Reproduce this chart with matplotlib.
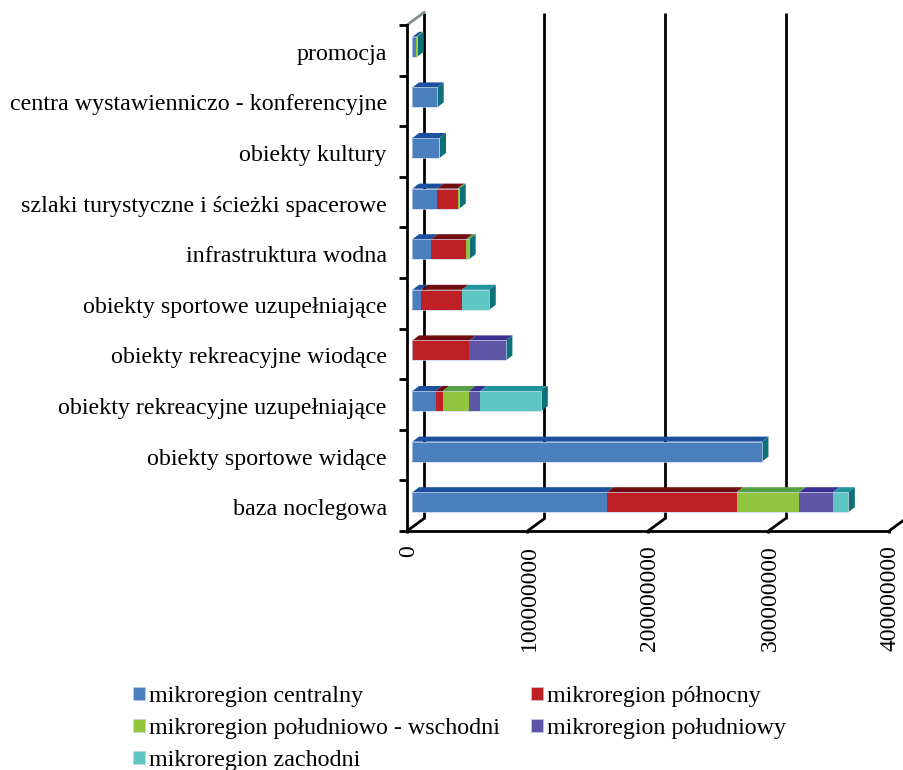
import matplotlib
matplotlib.use('Agg')
import matplotlib.pyplot as plt
from matplotlib.patches import Polygon, Patch
from matplotlib.transforms import ScaledTranslation

plt.rcParams['font.family'] = ['Liberation Serif', 'DejaVu Serif']

# Values, bottom category first
categories = ['baza noclegowa', 'obiekty sportowe widące', 'obiekty rekreacyjne uzupełniające',
              'obiekty rekreacyjne wiodące', 'obiekty sportowe uzupełniające', 'infrastruktura wodna',
              'szlaki turystyczne i ścieżki spacerowe', 'obiekty kultury',
              'centra wystawienniczo - konferencyjne', 'promocja']
centralny = [161400000, 290000000, 19300000, 0, 7200000, 15500000, 20500000, 22400000, 20500000, 3100000]
polnocny = [107600000, 0, 5800000, 47300000, 33800000, 29000000, 16900000, 0, 0, 0]
pld_wschodni = [52000000, 0, 21800000, 0, 0, 2500000, 1400000, 0, 0, 800000]
poludniowy = [28000000, 0, 9400000, 30200000, 0, 0, 0, 0, 0, 0]
zachodni = [12700000, 0, 50600000, 0, 22700000, 0, 0, 0, 0, 0]
series_names = ['mikroregion centralny', 'mikroregion północny', 'mikroregion południowo - wschodni',
                'mikroregion południowy', 'mikroregion zachodni']
x_ticks = [0, 100000000, 200000000, 300000000, 400000000]

series = [centralny, polnocny, pld_wschodni, poludniowy, zachodni]
front_colors = ['#4A7EBF', '#BE2025', '#92C53E', '#5E55A6', '#60C6C4']
top_colors = ['#1C4F9C', '#6F0D10', '#55A045', '#3C2F94', '#1F949C']
side_color = '#0E7078'
edge_color = '#C4D3E8'

fig_w, fig_h = 904, 770
ax_left, ax_right, ax_top, ax_bottom = 407, 889, 25, 531

fig = plt.figure(figsize=(fig_w / 100, fig_h / 100), dpi=100)
ax = fig.add_axes([ax_left / fig_w, 1 - ax_bottom / fig_h,
                   (ax_right - ax_left) / fig_w, (ax_bottom - ax_top) / fig_h])
ax.set_xlim(0, x_ticks[-1])
ax.set_ylim(0, len(categories))

# Size of one pixel in data units, the fake 3D is built from these
px_x = x_ticks[-1] / (ax_right - ax_left)
px_y = len(categories) / (ax_bottom - ax_top)

# Depth of the back wall
wall_dx = 17 * px_x
wall_dy = 12.5 * px_y
# Depth of one bar and where it sits on the floor
bar_dx = 6.5 * px_x
bar_dy = 5 * px_y
bar_start = 5.5 * px_x
bar_shift = 3.5 * px_y
bar_height = 20 * px_y

line_w = 2.0

# Back wall lines and floor diagonals
for t in x_ticks:
    ax.plot([t, t + wall_dx], [0, wall_dy], color='black', lw=line_w, clip_on=False, zorder=1,
            solid_capstyle='butt')
    if t < x_ticks[-1]:
        ax.plot([t + wall_dx, t + wall_dx], [wall_dy, len(categories) + wall_dy], color='black',
                lw=line_w, clip_on=False, zorder=1, solid_capstyle='butt')
ax.plot([0, wall_dx], [len(categories), len(categories) + wall_dy], color='#7F8F8F', lw=line_w,
        clip_on=False, zorder=1)

# Stacked bars: front faces through barh, top and side as polygons
for i in range(len(categories)):
    y = i + 0.5 + bar_shift
    left = bar_start
    for s in range(len(series)):
        v = series[s][i]
        if v == 0:
            continue
        ax.barh(y, v, height=bar_height, left=left, color=front_colors[s], edgecolor='none', zorder=3)
        top = Polygon([(left, y + bar_height / 2), (left + v, y + bar_height / 2),
                       (left + v + bar_dx, y + bar_height / 2 + bar_dy),
                       (left + bar_dx, y + bar_height / 2 + bar_dy)],
                      closed=True, facecolor=top_colors[s], edgecolor='none', zorder=2.5)
        ax.add_patch(top)
        left += v
    # Pale outline round the whole stack
    ax.barh(y, left - bar_start, height=bar_height, left=bar_start, fill=False, edgecolor=edge_color,
            linewidth=0.5, zorder=3.1)
    side = Polygon([(left, y - bar_height / 2), (left, y + bar_height / 2),
                    (left + bar_dx, y + bar_height / 2 + bar_dy),
                    (left + bar_dx, y - bar_height / 2 + bar_dy)],
                   closed=True, facecolor=side_color, edgecolor='none', zorder=2.6)
    ax.add_patch(side)

for name in ['top', 'right']:
    ax.spines[name].set_visible(False)
for name in ['left', 'bottom']:
    ax.spines[name].set_linewidth(line_w)
    ax.spines[name].set_zorder(4)

# Category ticks sit on slot edges, labels in the middle of the slots
ax.set_yticks(range(len(categories) + 1))
ax.set_yticklabels([''] * (len(categories) + 1))
ax.tick_params(axis='y', length=5.5, width=line_w, direction='out')
for i in range(len(categories)):
    ax.annotate(categories[i], xy=(0, i + 0.5 - 4 * px_y), xycoords='data', xytext=(-14.5, 0),
                textcoords='offset points', ha='right', va='center', fontsize=17.3, color='black')

ax.set_xticks(x_ticks)
ax.set_xticklabels([str(t) for t in x_ticks], rotation=90, fontsize=17, color='black')
ax.tick_params(axis='x', length=1.5, width=line_w, pad=9)
# Rotated labels sit a little right of the tick
nudge = ScaledTranslation(1.5 / 100, 0, fig.dpi_scale_trans)
for label in ax.get_xticklabels():
    label.set_transform(label.get_transform() + nudge)

# Legend fills by column, so this order gives the same rows as the original
order = [0, 2, 4, 1, 3]
handles = [Patch(facecolor=front_colors[k], edgecolor=edge_color, linewidth=0.4, label=series_names[k])
           for k in order]
fig.legend(handles=handles, ncols=2, loc='lower left', bbox_to_anchor=(133 / fig_w, -1 / fig_h),
           frameon=False, fontsize=17.3, handlelength=0.5, handleheight=0.5, handletextpad=0.15,
           labelspacing=0.46, columnspacing=1.32, borderpad=0, borderaxespad=0)

fig.savefig('out.png', dpi=100)
